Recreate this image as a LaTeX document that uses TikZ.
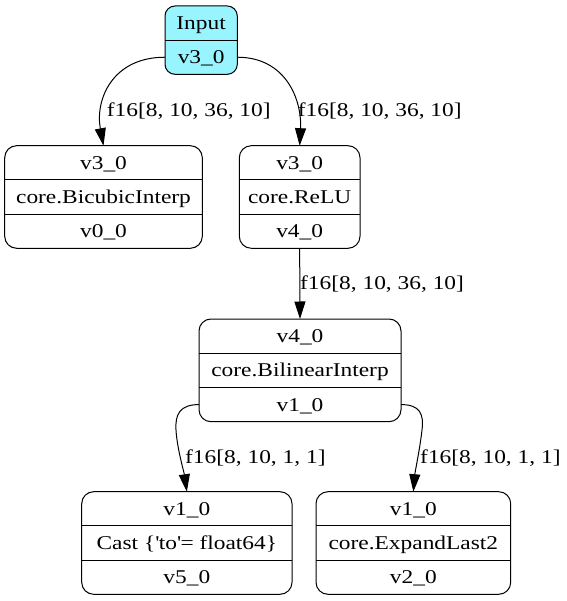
\documentclass[tikz,border=0pt]{standalone}
\usepackage{fontspec}
\setmainfont{Liberation Serif}[FakeStretch=1.2]
\usetikzlibrary{arrows.meta,calc}
\definecolor{incyan}{HTML}{98F5FF}
\begin{document}
\begin{tikzpicture}[x=1pt,y=-1pt,
  rec/.style={draw=black, line width=1pt, rounded corners=12pt, inner sep=0pt, outer sep=0pt, fill=white},
  txt/.style={inner sep=0pt, text height=13.2pt, text depth=0pt, font=\fontsize{19.5pt}{23pt}\selectfont},
  lbl/.style={txt, anchor=west},
  sepline/.style={line width=0.9pt},
  edge/.style={line width=1pt, -{Triangle[length=17.5pt,width=11pt]}}]
\useasboundingbox (0,0) rectangle (566,601);

% records
\node[rec, fill=incyan, rounded corners=10pt, minimum width=72.3pt, minimum height=68.3pt] (in) at (201.15,40.15) {};
\node[rec, minimum width=197.6pt, minimum height=102.6pt] (bic) at (103.5,197) {};
\node[rec, minimum width=120.7pt, minimum height=102.6pt] (relu) at (299.65,197) {};
\node[rec, minimum width=202pt, minimum height=102.7pt] (bil) at (300,370.35) {};
\node[rec, minimum width=210.3pt, minimum height=102.6pt] (cast) at (186.85,543) {};
\node[rec, minimum width=194.7pt, minimum height=102.6pt] (exp) at (413.35,543) {};

% dividers
\draw[sepline] (in.west) -- (in.east);
\foreach \n in {bic,relu,bil,cast,exp}{
  \draw[sepline] ($(\n.north west)!1/3!(\n.south west)$) -- ($(\n.north east)!1/3!(\n.south east)$);
  \draw[sepline] ($(\n.north west)!2/3!(\n.south west)$) -- ($(\n.north east)!2/3!(\n.south east)$);
}

% texts
\node[txt] (in1) at ($(in.north)!1/4!(in.south)$) {Input};
\node[txt] (in2) at ($(in.north)!3/4!(in.south)$) {v3\_0};

\node[txt] (bic1) at ($(bic.north)!1/6!(bic.south)$) {v3\_0};
\node[txt] (bic2) at ($(bic.north)!1/2!(bic.south)$) {core.BicubicInterp};
\node[txt] (bic3) at ($(bic.north)!5/6!(bic.south)$) {v0\_0};

\node[txt] (relu1) at ($(relu.north)!1/6!(relu.south)$) {v3\_0};
\node[txt] (relu2) at ($(relu.north)!1/2!(relu.south)$) {core.ReLU};
\node[txt] (relu3) at ($(relu.north)!5/6!(relu.south)$) {v4\_0};

\node[txt] (bil1) at ($(bil.north)!1/6!(bil.south)$) {v4\_0};
\node[txt] (bil2) at ($(bil.north)!1/2!(bil.south)$) {core.BilinearInterp};
\node[txt] (bil3) at ($(bil.north)!5/6!(bil.south)$) {v1\_0};

\node[txt] (cast1) at ($(cast.north)!1/6!(cast.south)$) {v1\_0};
\node[txt] (cast2) at ($(cast.north)!1/2!(cast.south)$) {Cast \{\textquotesingle to\textquotesingle= float64\}};
\node[txt] (cast3) at ($(cast.north)!5/6!(cast.south)$) {v5\_0};

\node[txt] (exp1) at ($(exp.north)!1/6!(exp.south)$) {v1\_0};
\node[txt] (exp2) at ($(exp.north)!1/2!(exp.south)$) {core.ExpandLast2};
\node[txt] (exp3) at ($(exp.north)!5/6!(exp.south)$) {v2\_0};

% ports
\coordinate (inL) at (in.west |- in2);
\coordinate (inR) at (in.east |- in2);
\coordinate (bilL) at (bil.west |- bil3);
\coordinate (bilR) at (bil.east |- bil3);

% edges
\draw[edge] (inL) .. controls (112,57.2) and (95,100) .. (bic.north);
\draw[edge] (inR) .. controls (286,57.2) and (302,100) .. (relu.north);
\draw[edge] (relu.south) -- (bil.north);
\draw[edge] (bilL) .. controls (180,404.6) and (175,414) .. (176,430) .. controls (177,448) and (184,472) .. (cast.north);
\draw[edge] (bilR) .. controls (420,404.6) and (424,414) .. (422,430) .. controls (420,448) and (415,472) .. (exp.north);

% edge labels
\node[lbl] (l1) at (106.7,110) {f16[8, 10, 36, 10]};
\node[lbl] (l2) at (297.7,110) {f16[8, 10, 36, 10]};
\node[lbl] (l3) at (300,283.3) {f16[8, 10, 36, 10]};
\node[lbl] (l4) at (185,456.7) {f16[8, 10, 1, 1]};
\node[lbl] (l5) at (420,456.7) {f16[8, 10, 1, 1]};
\end{tikzpicture}
\end{document}
